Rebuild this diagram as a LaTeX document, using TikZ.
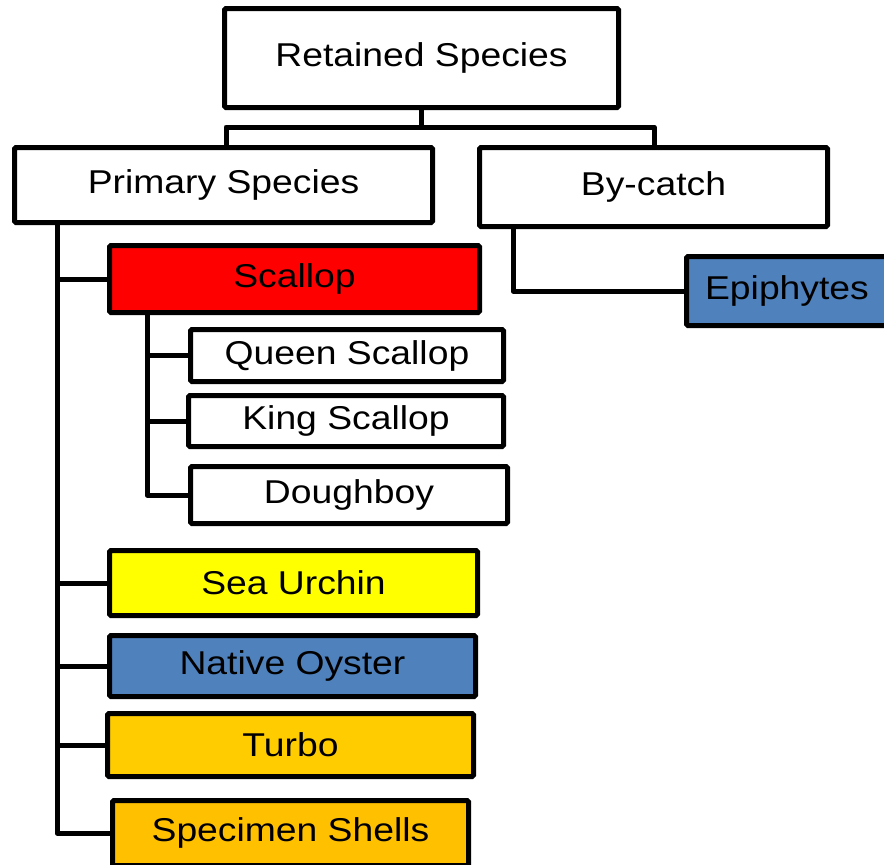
\documentclass[tikz,border=0pt]{standalone}
\usepackage{fontspec}
\setmainfont{Liberation Sans}
\definecolor{scred}{HTML}{FF0000}
\definecolor{suyellow}{HTML}{FFFF00}
\definecolor{noblue}{HTML}{4F81BD}
\definecolor{tuorange}{HTML}{FFCC00}
\definecolor{ssorange}{HTML}{FFC000}
\newcommand{\sttext}[1]{\scalebox{1.13}[1]{#1}}
\begin{document}
\begin{tikzpicture}[x=1pt,y=-1pt,
  box/.style={draw=black, line width=5pt, rounded corners=1.5pt, inner sep=0pt,
    fill=white, font=\fontsize{33}{38}\selectfont},
  conn/.style={draw=black, line width=5pt, line join=round}]
\useasboundingbox (0,0) rectangle (884,865);
\clip (0,0) rectangle (884,865);
\fill[white] (0,0) rectangle (884,865);

% connectors first
\coordinate (busL) at (226,127);
\coordinate (busR) at (654,127);
\coordinate (trunkP) at (57,225);
\coordinate (trunkS) at (147,315);
\coordinate (trunkB) at (513,229);

% nodes
\node[box, minimum width=394, minimum height=99] (rs) at (421.5,58) {\sttext{Retained Species}};
\node[box, minimum width=418, minimum height=75] (ps) at (223.5,185) {\sttext{Primary Species}};
\node[box, minimum width=348, minimum height=79] (bc) at (653.5,187) {\sttext{By-catch}};
\node[box, fill=noblue, minimum width=201, minimum height=69] (ep) at (787,291) {\sttext{Epiphytes}};
\node[box, fill=scred, minimum width=370, minimum height=67] (sc) at (294.5,279) {\sttext{Scallop}};
\node[box, minimum width=313, minimum height=52] (qs) at (347,355.5) {\sttext{Queen Scallop}};
\node[box, minimum width=315, minimum height=51] (ks) at (346,421) {\sttext{King Scallop}};
\node[box, minimum width=317, minimum height=57] (db) at (349,495) {\sttext{Doughboy}};
\node[box, fill=suyellow, minimum width=368, minimum height=65] (su) at (293.5,583) {\sttext{Sea Urchin}};
\node[box, fill=noblue, minimum width=366, minimum height=61] (no) at (292.5,666) {\sttext{Native Oyster}};
\node[box, fill=tuorange, minimum width=366, minimum height=63] (tu) at (290.5,745) {\sttext{Turbo}};
\node[box, fill=ssorange, minimum width=356, minimum height=65] (ss) at (290.5,833) {\sttext{Specimen Shells}};

% top bus
\draw[conn] (rs.south) -- (rs.south |- busL);
\draw[conn] (ps.north -| busL) -- (busL) -- (busR) -- (bc.north -| busR);

% primary trunk
\draw[conn] (ps.south -| trunkP) -- (trunkP |- ss.west) -- (ss.west);
\draw[conn] (trunkP |- sc.west) -- (sc.west);
\draw[conn] (trunkP |- su.west) -- (su.west);
\draw[conn] (trunkP |- no.west) -- (no.west);
\draw[conn] (trunkP |- tu.west) -- (tu.west);

% scallop trunk
\draw[conn] (sc.south -| trunkS) -- (trunkS |- db.west) -- (db.west);
\draw[conn] (trunkS |- qs.west) -- (qs.west);
\draw[conn] (trunkS |- ks.west) -- (ks.west);

% by-catch
\draw[conn] (bc.south -| trunkB) -- (trunkB |- ep.west) -- (ep.west);
\end{tikzpicture}
\end{document}
